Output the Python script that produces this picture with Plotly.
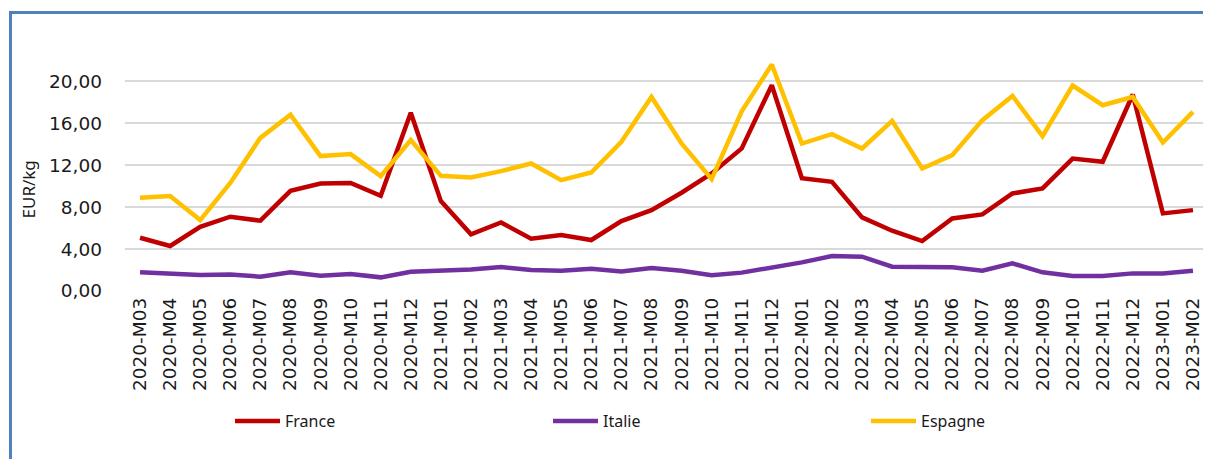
import plotly.graph_objects as go

categories = [
    "2020-M03", "2020-M04", "2020-M05", "2020-M06", "2020-M07", "2020-M08", "2020-M09",
    "2020-M10", "2020-M11", "2020-M12", "2021-M01", "2021-M02", "2021-M03", "2021-M04",
    "2021-M05", "2021-M06", "2021-M07", "2021-M08", "2021-M09", "2021-M10", "2021-M11",
    "2021-M12", "2022-M01", "2022-M02", "2022-M03", "2022-M04", "2022-M05", "2022-M06",
    "2022-M07", "2022-M08", "2022-M09", "2022-M10", "2022-M11", "2022-M12", "2023-M01",
    "2023-M02",
]

france = [
    5.08, 4.29, 6.12, 7.08, 6.70, 9.55, 10.25, 10.30, 9.08, 17.00,
    8.57, 5.40, 6.54, 4.98, 5.33, 4.86, 6.67, 7.71, 9.37, 11.20, 13.59, 19.62,
    10.76, 10.41, 7.02, 5.75, 4.76, 6.92, 7.30, 9.30, 9.78, 12.63, 12.32, 18.73,
    7.40, 7.71,
]

italie = [
    1.78, 1.65, 1.52, 1.58, 1.37, 1.78, 1.46, 1.62, 1.30, 1.84,
    1.95, 2.06, 2.28, 2.00, 1.94, 2.12, 1.86, 2.18, 1.92, 1.50, 1.75, 2.20,
    2.73, 3.33, 3.27, 2.32, 2.32, 2.27, 1.94, 2.63, 1.78, 1.43, 1.43, 1.68,
    1.68, 1.94,
]

espagne = [
    8.90, 9.05, 6.76, 10.30, 14.60, 16.80, 12.86, 13.05, 10.95, 14.40,
    10.98, 10.83, 11.43, 12.16, 10.57, 11.30, 14.22, 18.50, 14.06, 10.67, 17.14, 21.59,
    14.06, 14.95, 13.59, 16.22, 11.68, 12.95, 16.29, 18.60, 14.76, 19.59, 17.71, 18.50,
    14.16, 17.08,
]

y_ticks = [0, 4, 8, 12, 16, 20]

# page body adds an 8px margin; work in reference pixel coordinates and shift
OFF = 8
W, H = 1211 - OFF, 459 - OFF
PLOT_L, PLOT_R, PLOT_T, PLOT_B = 125, 1208, 55, 291  # in reference pixels
ML = PLOT_L - OFF
MR = W - (PLOT_R - OFF)
MT = PLOT_T - OFF
MB = H - (PLOT_B - OFF)
PW, PH = PLOT_R - PLOT_L, PLOT_B - PLOT_T


def px_x(px):
    return (px - PLOT_L) / PW


def px_y(py):
    return (PLOT_B - py) / PH


fig = go.Figure()
for name, vals, color in [
    ("France", france, "#C00000"),
    ("Italie", italie, "#7030A0"),
    ("Espagne", espagne, "#FFC000"),
]:
    fig.add_trace(go.Scatter(
        x=categories, y=vals, name=name, mode="lines",
        line=dict(color=color, width=4.5),
    ))

fig.update_layout(
    width=W, height=H,
    margin=dict(l=ML, r=MR, t=MT, b=MB, autoexpand=False),
    plot_bgcolor="white", paper_bgcolor="white",
    separators=", ",
    font=dict(family="DejaVu Sans", size=18, color="#1a1a1a"),
    showlegend=True,
    legend=dict(
        orientation="h", x=px_x(230), xanchor="left", y=px_y(421), yanchor="middle",
        entrywidth=258, entrywidthmode="pixels", itemwidth=45,
        font=dict(family="Noto Sans", size=16, color="#1a1a1a"),
        bgcolor="rgba(0,0,0,0)",
    ),
    xaxis=dict(
        type="category", range=[-0.5, len(categories) - 0.5],
        tickangle=-90, showgrid=False, zeroline=False,
        showline=False, ticks="", automargin=False, ticklabelstandoff=2,
        tickfont=dict(family="DejaVu Sans", size=18.5),
    ),
    yaxis=dict(
        range=[0, 22.5], tickvals=y_ticks, tickformat=".2f",
        showgrid=True, gridcolor="#D9D9D9", gridwidth=1.5,
        zeroline=False, showline=False, ticks="", automargin=False,
        ticklabelstandoff=22,
        tickfont=dict(family="DejaVu Sans", size=18.5),
    ),
    shapes=[
        dict(type="line", xref="paper", yref="paper",
             x0=px_x(10.5), x1=px_x(10.5), y0=px_y(12.5), y1=px_y(470),
             line=dict(color="#4F81BD", width=3)),
        dict(type="line", xref="paper", yref="paper",
             x0=px_x(9), x1=px_x(1220), y0=px_y(12.5), y1=px_y(12.5),
             line=dict(color="#4F81BD", width=3)),
    ],
    annotations=[
        dict(text="EUR/kg", xref="paper", yref="paper", x=px_x(27.5), y=px_y(190),
             textangle=-90, showarrow=False, xanchor="center", yanchor="middle",
             font=dict(family="Noto Sans", size=17, color="#1a1a1a")),
    ],
)

fig.write_html("out.html")
